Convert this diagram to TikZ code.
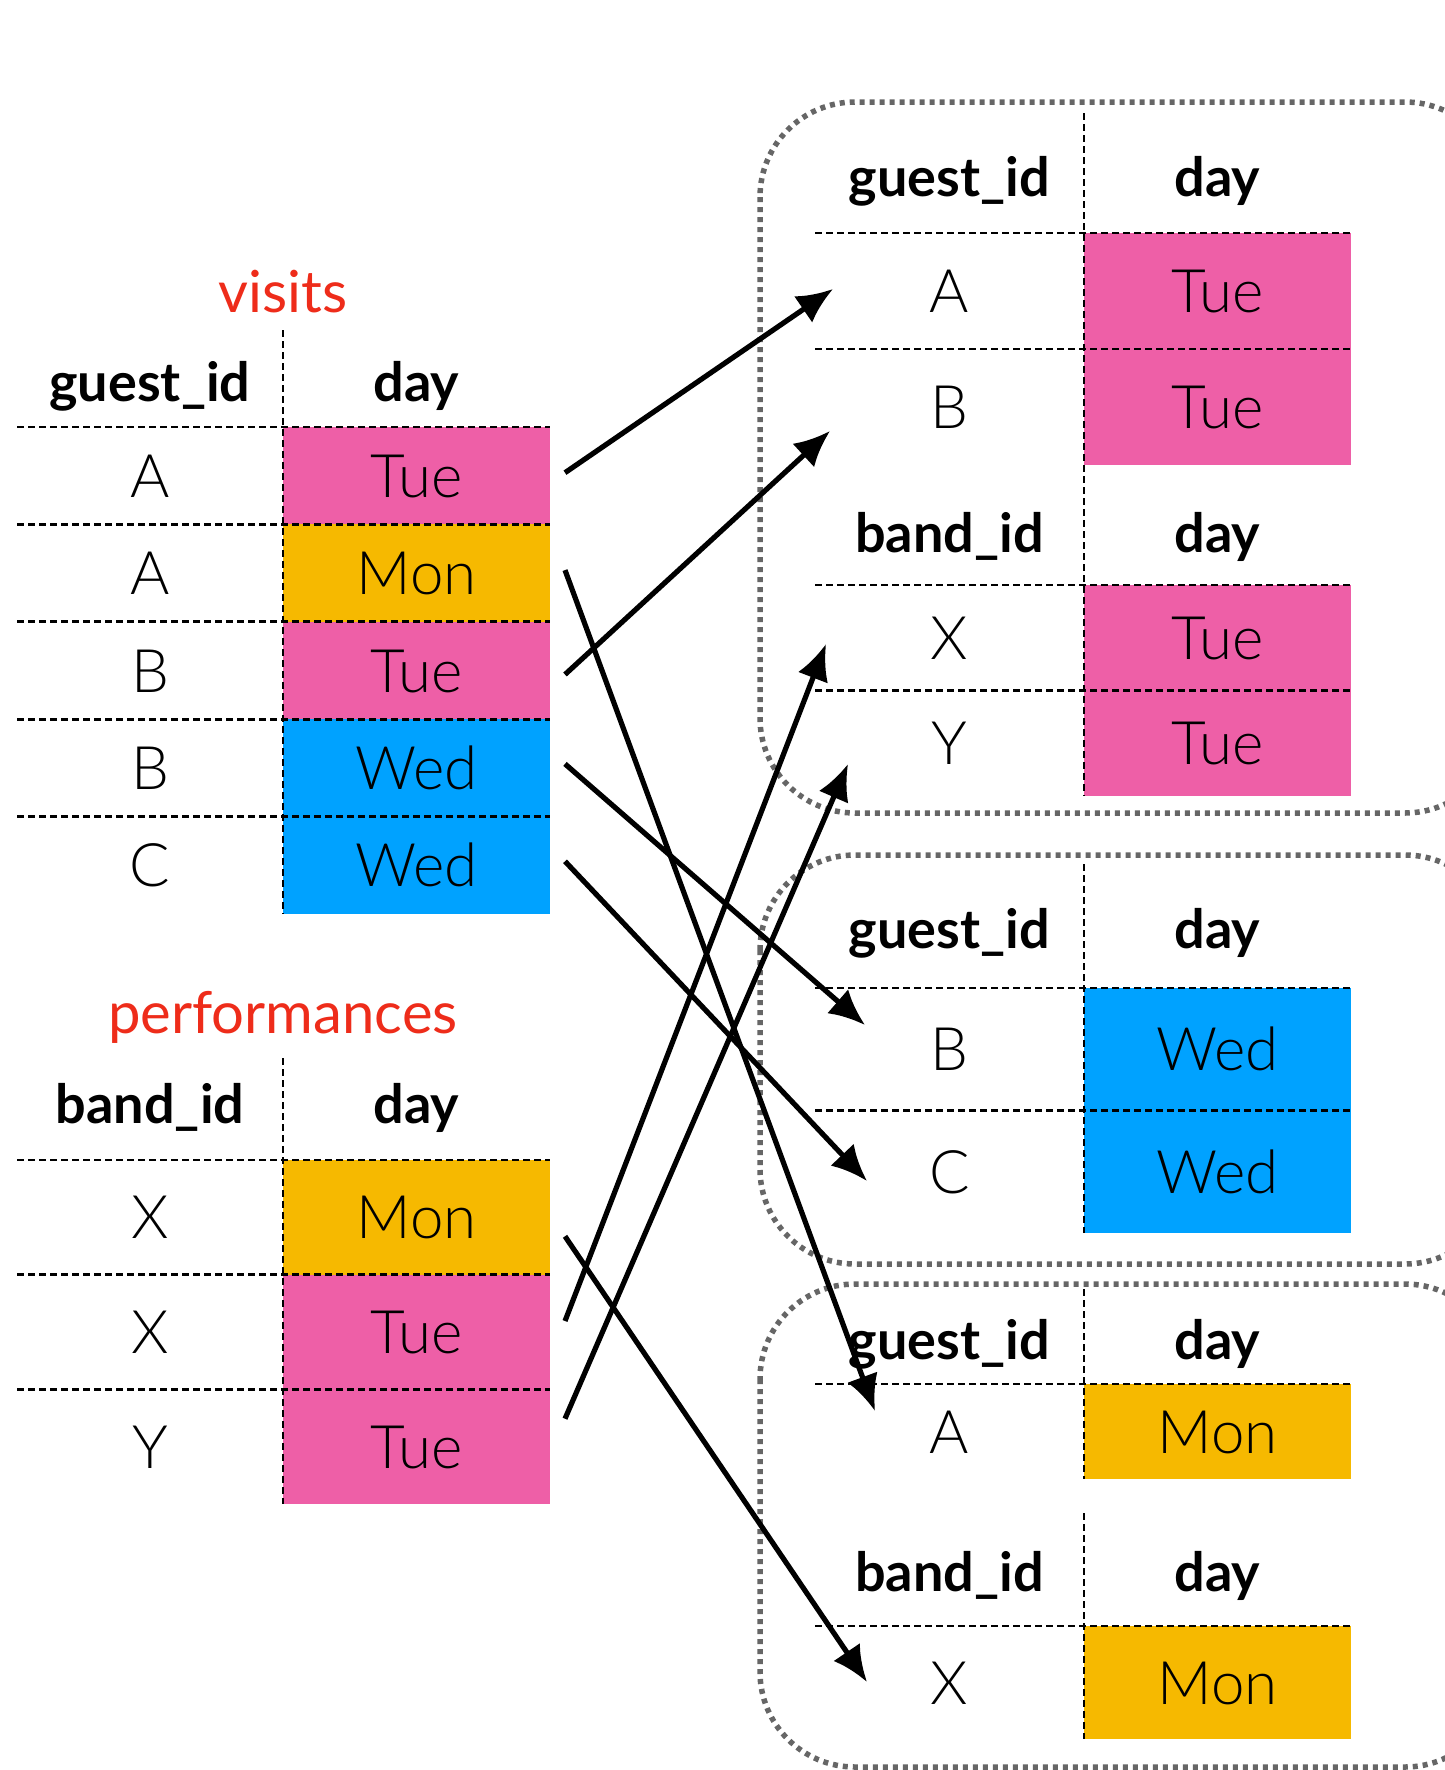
\documentclass[tikz,border=0pt]{standalone}
\usepackage{fontspec}
\setmainfont{Lato}
\newfontfamily\lightf{Lato Light}
\usetikzlibrary{calc,arrows.meta}
\definecolor{tue}{HTML}{EE5FA7}
\definecolor{mon}{HTML}{F6B900}
\definecolor{wed}{HTML}{00A2FF}
\definecolor{ttl}{HTML}{EE2C1A}
\definecolor{boxg}{HTML}{666666}
\tikzset{
  tline/.style={line width=2.8pt, dash pattern=on 7pt off 4pt},
  boxs/.style={draw=boxg, line width=5.5pt, dash pattern=on 5pt off 5pt, rounded corners=95pt},
  hdr/.style={anchor=base, inner sep=0, font=\fontsize{54}{60}\selectfont\bfseries},
  ttlnode/.style={anchor=base, inner sep=0, text=ttl, font=\fontsize{58}{64}\selectfont},
  keyc/.style={inner sep=0, text height=43pt, text depth=0pt, font=\lightf\fontsize{60}{70}\selectfont},
  dayc/.style={inner sep=0, outer sep=0, minimum width=267pt, minimum height=#1, text height=43pt, text depth=0pt, font=\lightf\fontsize{60}{70}\selectfont},
  arr/.style={line width=5.2pt, -{Latex[length=36pt,width=32pt]}},
}
\begin{document}
\begin{tikzpicture}[x=1pt,y=-1pt]
\useasboundingbox (0,0) rectangle (1444,1770);
\fill[white] (0,0) rectangle (1444,1770);

% ---------- visits ----------
\node[ttlnode] (vt) at (283,312) {visits};
\node[hdr] (vh1) at (150,401) {guest\_id};
\node[hdr] (vh2) at (416.5,401) {day};
\node[dayc=97.4pt, fill=tue] (v1d) at (416.5,475.7) {Tue};
\node[dayc=97.4pt, fill=mon] (v2d) at (416.5,573.1) {Mon};
\node[dayc=97.4pt, fill=tue] (v3d) at (416.5,670.5) {Tue};
\node[dayc=97.4pt, fill=wed] (v4d) at (416.5,767.9) {Wed};
\node[dayc=97.4pt, fill=wed] (v5d) at (416.5,865.3) {Wed};
\node[keyc] (v1k) at (150,475.7) {A};
\node[keyc] (v2k) at (150,573.1) {A};
\node[keyc] (v3k) at (150,670.5) {B};
\node[keyc] (v4k) at (150,767.9) {B};
\node[keyc] (v5k) at (150,865.3) {C};
\draw[tline] (283,330) -- (283,914);
\foreach \y in {427,524.4,621.8,719.2,816.6} \draw[tline] (17,\y) -- (550,\y);

% ---------- performances ----------
\node[ttlnode] (pt) at (283,1033) {performances};
\node[hdr] (ph1) at (150,1123) {band\_id};
\node[hdr] (ph2) at (416.5,1123) {day};
\node[dayc=114.7pt, fill=mon] (p1d) at (416.5,1217.3) {Mon};
\node[dayc=114.7pt, fill=tue] (p2d) at (416.5,1332) {Tue};
\node[dayc=114.7pt, fill=tue] (p3d) at (416.5,1446.7) {Tue};
\node[keyc] (p1k) at (150,1217.3) {X};
\node[keyc] (p2k) at (150,1332) {X};
\node[keyc] (p3k) at (150,1446.7) {Y};
\draw[tline] (283,1058) -- (283,1504);
\foreach \y in {1160,1274.7,1389.4} \draw[tline] (17,\y) -- (550,\y);

% ---------- box 1 ----------
\draw[boxs] (760,102) rectangle (1500,813);
\node[hdr] (ah1) at (949.5,196) {guest\_id};
\node[hdr] (ah2) at (1217.5,196) {day};
\node[dayc=116pt, fill=tue] (a1d) at (1217.5,291) {Tue};
\node[dayc=116pt, fill=tue] (a2d) at (1217.5,407) {Tue};
\node[keyc] (a1k) at (949.5,291) {A};
\node[keyc] (a2k) at (949.5,407) {B};
\node[hdr] (bh1) at (949.5,552) {band\_id};
\node[hdr] (bh2) at (1217.5,552) {day};
\node[dayc=105.5pt, fill=tue] (b1d) at (1217.5,637.75) {Tue};
\node[dayc=105.5pt, fill=tue] (b2d) at (1217.5,743.25) {Tue};
\node[keyc] (b1k) at (949.5,637.75) {X};
\node[keyc] (b2k) at (949.5,743.25) {Y};
\draw[tline] (1084,113) -- (1084,796);
\foreach \y in {233,349,585,690.5} \draw[tline] (815,\y) -- (1351,\y);

% ---------- box 2 ----------
\draw[boxs] (760,855) rectangle (1500,1264);
\node[hdr] (ch1) at (949.5,948) {guest\_id};
\node[hdr] (ch2) at (1217.5,948) {day};
\node[dayc=122.5pt, fill=wed] (c1d) at (1217.5,1049.25) {Wed};
\node[dayc=122.5pt, fill=wed] (c2d) at (1217.5,1171.75) {Wed};
\node[keyc] (c1k) at (949.5,1049.25) {B};
\node[keyc] (c2k) at (949.5,1171.75) {C};
\draw[tline] (1084,864) -- (1084,1233);
\foreach \y in {988,1110.5} \draw[tline] (815,\y) -- (1351,\y);

% ---------- box 3 ----------
\draw[boxs] (760,1284) rectangle (1500,1767);
\node[hdr] (dh1) at (949.5,1359) {guest\_id};
\node[hdr] (dh2) at (1217.5,1359) {day};
\node[dayc=95pt, fill=mon] (d1d) at (1217.5,1431.5) {Mon};
\node[keyc] (d1k) at (949.5,1431.5) {A};
\node[hdr] (eh1) at (949.5,1591) {band\_id};
\node[hdr] (eh2) at (1217.5,1591) {day};
\node[dayc=113pt, fill=mon] (e1d) at (1217.5,1682.5) {Mon};
\node[keyc] (e1k) at (949.5,1682.5) {X};
\draw[tline] (1084,1289) -- (1084,1479);
\draw[tline] (1084,1513) -- (1084,1739);
\draw[tline] (815,1384) -- (1351,1384);
\draw[tline] (815,1626) -- (1351,1626);

% ---------- arrows ----------
\coordinate (s1) at ($(v1d.east)+(15,-3)$);
\coordinate (s2) at ($(v2d.east)+(15,-3)$);
\coordinate (s3) at ($(v3d.east)+(15,4)$);
\coordinate (s4) at ($(v4d.east)+(15,-4)$);
\coordinate (s5) at ($(v5d.east)+(15,-4)$);
\coordinate (s6) at ($(p1d.east)+(15,19)$);
\coordinate (s7) at ($(p2d.east)+(15,-11)$);
\coordinate (s8) at ($(p3d.east)+(15,-28)$);
\coordinate (t1) at (833,289);
\coordinate (t2) at (830,431);
\coordinate (t3) at (865,1025);
\coordinate (t4) at (867,1181);
\coordinate (t5) at (875,1411);
\coordinate (t6) at (826,644);
\coordinate (t7) at (848,764);
\coordinate (t8) at (867,1682);
\draw[arr] (s1) -- (t1);
\draw[arr] (s3) -- (t2);
\draw[arr] (s4) -- (t3);
\draw[arr] (s5) -- (t4);
\draw[arr] (s2) -- (t5);
\draw[arr] (s7) -- (t6);
\draw[arr] (s8) -- (t7);
\draw[arr] (s6) -- (t8);
\end{tikzpicture}
\end{document}
